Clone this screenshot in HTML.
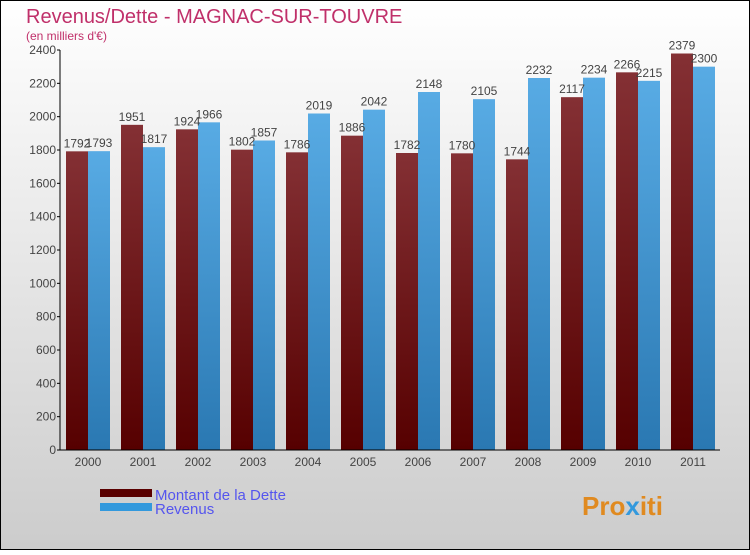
<!DOCTYPE html>
<html><head><meta charset="utf-8"><style>
body{margin:0;}
#c{width:750px;height:550px;position:relative;font-family:"Liberation Sans",sans-serif;}
</style></head><body>
<div id="c">
<svg width="750" height="550" xmlns="http://www.w3.org/2000/svg" id="svg">
<defs>
<linearGradient id="bg" x1="0" y1="0" x2="0" y2="1"><stop offset="0" stop-color="#ffffff"/><stop offset="1" stop-color="#cccccc"/></linearGradient>
<linearGradient id="gd" x1="0" y1="0" x2="0" y2="1"><stop offset="0" stop-color="#843034"/><stop offset="1" stop-color="#560000"/></linearGradient>
<linearGradient id="gr" x1="0" y1="0" x2="0" y2="1"><stop offset="0" stop-color="#58abe4"/><stop offset="1" stop-color="#2a78b2"/></linearGradient>
</defs>
<rect x="0.5" y="0.5" width="749" height="549" fill="url(#bg)" stroke="#000"/>
<text x="26" y="23" font-size="20" fill="#c0306a">Revenus/Dette - MAGNAC-SUR-TOUVRE</text>
<text x="26" y="40" font-size="12" fill="#c0306a">(en milliers d'€)</text>
<g id="plot"></g>
<rect x="100" y="489" width="52" height="8" fill="#5a0000"/>
<text x="155" y="500" font-size="15" fill="#5555ee">Montant de la Dette</text>
<rect x="100" y="503" width="52" height="8" fill="#3399dd"/>
<text x="155" y="514" font-size="15" fill="#5555ee">Revenus</text>
<text x="582" y="515" font-size="26" font-weight="bold" fill="#e08a20">Pro<tspan fill="#3399dd">x</tspan>iti</text>
</svg>
</div>
<script>
const years=["2000","2001","2002","2003","2004","2005","2006","2007","2008","2009","2010","2011"];
const dette=[1792,1951,1924,1802,1786,1886,1782,1780,1744,2117,2266,2379];
const revenus=[1793,1817,1966,1857,2019,2042,2148,2105,2232,2234,2215,2300];
const yTicks=[0,200,400,600,800,1000,1200,1400,1600,1800,2000,2200,2400];
const NS="http://www.w3.org/2000/svg";
const g=document.getElementById('plot');
const y0=450,yTop=50,yMax=2400,x0=60,x1=720;
function yS(v){return y0-(v/yMax)*(y0-yTop);}
function xS(i){return 66+i*55;}
function mk(t,a){const e=document.createElementNS(NS,t);for(const k in a)e.setAttribute(k,a[k]);g.appendChild(e);return e;}
years.forEach((yr,i)=>{
  const x=xS(i);
  let r=mk('rect',{x:x,y:yS(dette[i]),width:22,height:y0-yS(dette[i]),fill:'url(#gd)'});
  
  
  r=mk('rect',{x:x+22,y:yS(revenus[i]),width:22,height:y0-yS(revenus[i]),fill:'url(#gr)'});
  
  
  let t=mk('text',{x:x+11,y:yS(dette[i])-4,'font-size':12,fill:'#444','text-anchor':'middle'});
  t.textContent=dette[i];
  
  
  t=mk('text',{x:x+33,y:yS(revenus[i])-4,'font-size':12,fill:'#444','text-anchor':'middle'});
  t.textContent=revenus[i];
  
  
  t=mk('text',{x:x+22,y:y0+16,'font-size':12,fill:'#444','text-anchor':'middle'});
  t.textContent=yr;
  
  
});
yTicks.forEach(v=>{
  mk('line',{x1:x0-3,x2:x0,y1:yS(v),y2:yS(v),stroke:'#000'});
  const t=mk('text',{x:x0-4,y:yS(v)+4,'font-size':12,fill:'#444','text-anchor':'end'});
  t.textContent=v;
  
  
});
let a=mk('line',{x1:x0,x2:x0,y1:yTop,y2:y0,stroke:'#000'});


a=mk('line',{x1:x0,x2:x1,y1:y0,y2:y0,stroke:'#000'});


</script>
</body></html>
